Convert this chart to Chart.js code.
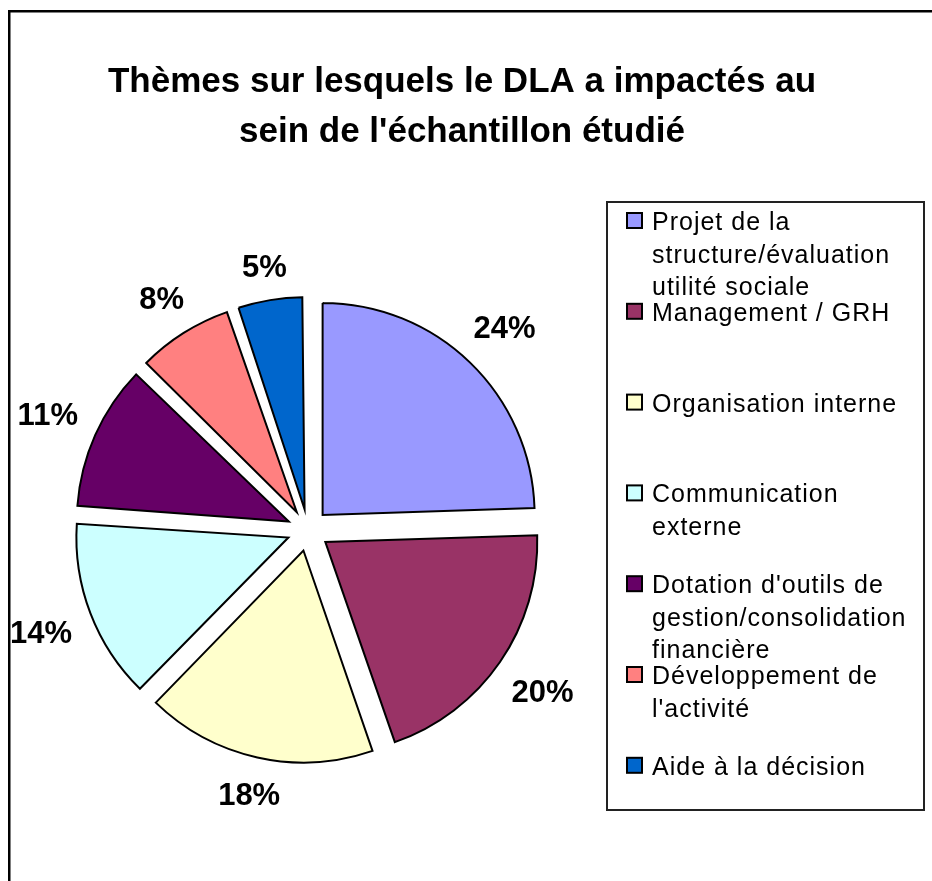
<!DOCTYPE html>
<html>
<head>
<meta charset="utf-8">
<script src="https://cdn.jsdelivr.net/npm/chart.js@4"></script>
<style>
  html, body { margin: 0; padding: 0; background: #fff; overflow: hidden; }
  #wrap { position: relative; width: 932px; height: 881px; }
</style>
</head>
<body>
<div id="wrap"><canvas id="myChart"></canvas></div>
<script>
const titleLines = ['Thèmes sur lesquels le DLA a impactés au', "sein de l'échantillon étudié"];
const categories = [
    'Projet de la structure/évaluation utilité sociale',
    'Management / GRH',
    'Organisation interne',
    'Communication externe',
    "Dotation d'outils de gestion/consolidation financière",
    "Développement de l'activité",
    'Aide à la décision'
];
// slice sizes (labels show them rounded)
const shares = [24.49, 20.2, 17.6, 13.8, 11.2, 7.5, 5.21];
const sliceColors = ['#9999FF', '#993366', '#FFFFCC', '#CCFFFF', '#660066', '#FF8080', '#0066CC'];

const FONT = '"Liberation Sans", Arial, sans-serif';
const pieRadius = 212;
const explode = 84; // chart.js moves the slice by offset / 4

function wrapText(ctx, text, maxWidth) {
    const words = text.split(' ');
    const lines = [];
    let line = '';
    words.forEach(w => {
        const test = line ? line + ' ' + w : w;
        if (line && ctx.measureText(test).width > maxWidth) {
            lines.push(line);
            line = w;
        } else {
            line = test;
        }
    });
    if (line) lines.push(line);
    return lines;
}

const decorPlugin = {
    id: 'decor',
    afterDatasetsUpdate(chart) {
        // keep every slice at the same radius (chart.js enlarges the small ones)
        chart.getDatasetMeta(0).data.forEach(arc => {
            const circ = arc.endAngle - arc.startAngle;
            const fix = 1 - Math.sin(Math.min(Math.PI, circ));
            arc.outerRadius = pieRadius - (explode / 4) * fix;
        });
    },
    beforeDraw(chart) {
        const ctx = chart.ctx;
        ctx.save();
        // outer frame
        ctx.strokeStyle = '#000';
        ctx.lineWidth = 2.5;
        ctx.strokeRect(9.25, 11.25, 1000, 1000);
        // title
        ctx.fillStyle = '#000';
        ctx.font = 'bold 35px ' + FONT;
        ctx.textAlign = 'center';
        ctx.textBaseline = 'alphabetic';
        titleLines.forEach((t, i) => ctx.fillText(t, 462, 92 + i * 50));
        ctx.restore();
    },
    afterDatasetsDraw(chart) {
        const ctx = chart.ctx;
        const meta = chart.getDatasetMeta(0);
        const total = shares.reduce((a, b) => a + b, 0);
        ctx.save();
        ctx.font = 'bold 31px ' + FONT;
        ctx.fillStyle = '#000';
        ctx.textAlign = 'center';
        ctx.textBaseline = 'alphabetic';
        meta.data.forEach((arc, i) => {
            const text = Math.round(shares[i] / total * 100) + '%';
            const mid = (arc.startAngle + arc.endAngle) / 2;
            const w = ctx.measureText(text).width;
            const ext = (w / 2) * Math.abs(Math.cos(mid)) + 11 * Math.abs(Math.sin(mid));
            const dist = 253 + ext;
            const x = arc.x + Math.cos(mid) * dist;
            const y = arc.y + Math.sin(mid) * dist;
            ctx.fillText(text, x, y + 11);
        });
        ctx.restore();
    },
    afterDraw(chart) {
        const ctx = chart.ctx;
        ctx.save();
        // legend frame
        ctx.strokeStyle = '#222';
        ctx.lineWidth = 2;
        ctx.strokeRect(607, 202, 317, 608);
        ctx.font = '25px ' + FONT;
        ctx.letterSpacing = '1px';
        ctx.textAlign = 'left';
        ctx.textBaseline = 'alphabetic';
        categories.forEach((cat, i) => {
            const base = 230 + i * 90.8;
            ctx.fillStyle = sliceColors[i];
            ctx.fillRect(627, base - 17, 15, 15);
            ctx.strokeStyle = '#000';
            ctx.lineWidth = 2;
            ctx.strokeRect(627, base - 17, 15, 15);
            ctx.fillStyle = '#000';
            wrapText(ctx, cat, 268).forEach((line, j) => {
                ctx.fillText(line, 652, base + j * 32.5);
            });
        });
        ctx.restore();
    }
};

const ctx = document.getElementById('myChart').getContext('2d');
new Chart(ctx, {
    type: 'pie',
    data: {
        labels: categories,
        datasets: [{
            data: shares,
            backgroundColor: sliceColors,
            borderColor: '#000',
            borderWidth: 2,
            borderJoinStyle: 'miter',
            offset: explode
        }]
    },
    options: {
        responsive: true,
        maintainAspectRatio: false,
        animation: false,
        events: [],
        radius: pieRadius,
        layout: {
            padding: { left: 28, right: 344, top: 250, bottom: 71 }
        },
        plugins: {
            legend: { display: false },
            title: { display: false },
            tooltip: { enabled: false }
        }
    },
    plugins: [decorPlugin]
});
</script>
</body>
</html>
